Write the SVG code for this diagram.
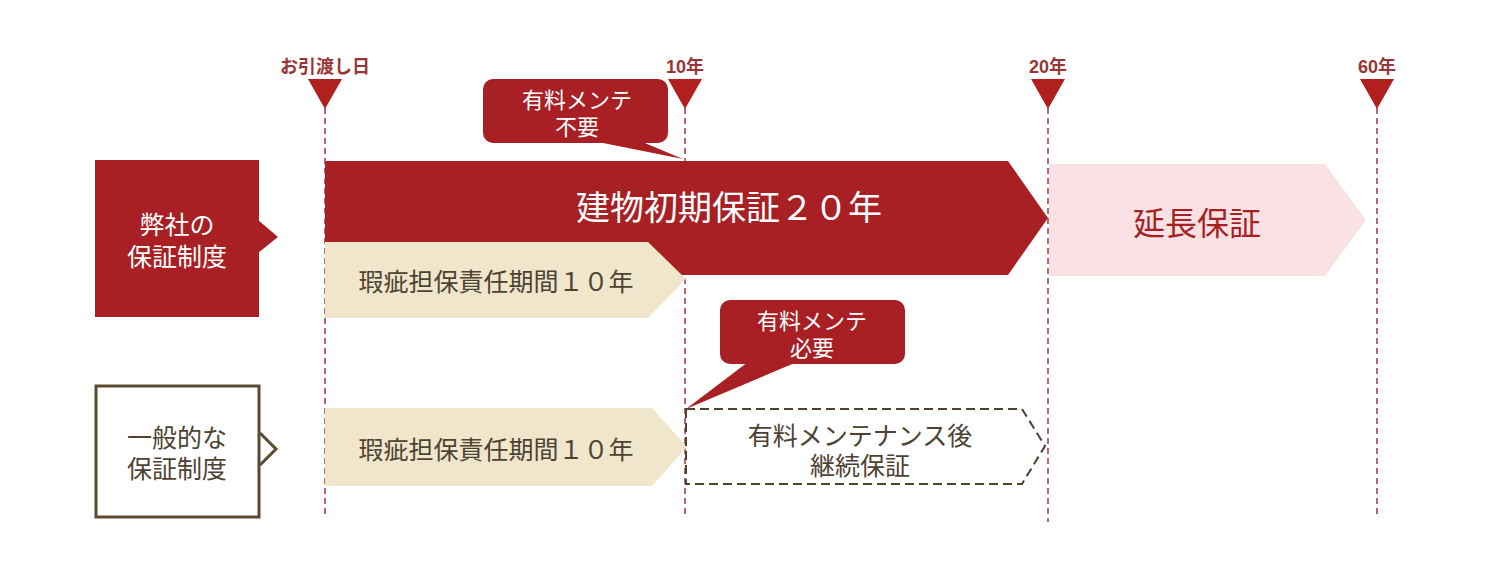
<svg xmlns="http://www.w3.org/2000/svg" width="1500" height="574" viewBox="0 0 1500 574">
<style>
text{font-family:"Liberation Sans","Noto Sans CJK JP",sans-serif;text-anchor:middle}
.lbl{font-size:18px;fill:#9a3535;font-weight:bold}
.tri{fill:#b0201f}
.vl{stroke:#9a3a45;stroke-width:1.5;stroke-dasharray:6 4;fill:none}
.red{fill:#a81f24}
.beige{fill:#efe6cc}
.pink{fill:#f9e1e4}
.w{fill:#ffffff}
.brn{fill:#4e4232}
</style>
<rect width="1500" height="574" fill="#ffffff"/>
<g id="connectors">
<line class="vl" x1="325" y1="108" x2="325" y2="518"/>
<line class="vl" x1="685" y1="108" x2="685" y2="518"/>
<line class="vl" x1="1048" y1="108" x2="1048" y2="522"/>
<line class="vl" x1="1377" y1="108" x2="1377" y2="518"/>
</g>
<g id="marker-0">
<text class="lbl" x="325" y="73">お引渡し日</text>
<polygon class="tri" points="308,79 342,79 325,109"/>
</g>
<g id="marker-10">
<text class="lbl" x="685" y="73">10年</text>
<polygon class="tri" points="668,79 702,79 685,109"/>
</g>
<g id="marker-20">
<text class="lbl" x="1048" y="73">20年</text>
<polygon class="tri" points="1031,79 1065,79 1048,109"/>
</g>
<g id="marker-60">
<text class="lbl" x="1377" y="73">60年</text>
<polygon class="tri" points="1360,79 1394,79 1377,109"/>
</g>
<g id="our-system">
<rect class="red" x="95" y="160" width="164" height="157"/>
<polygon class="red" points="258,220 278,237 258,253"/>
<text class="w" x="177" y="234" font-size="25">弊社の</text>
<text class="w" x="177" y="266" font-size="25">保証制度</text>
</g>
<g id="initial-20">
<polygon class="red" points="325,161 1008,161 1048,218 1008,275 325,275"/>
<text class="w" x="729" y="220" font-size="34">建物初期保証２０年</text>
</g>
<g id="defect-10-a">
<polygon class="beige" points="325,242 648,242 686,279 648,318 325,318"/>
<text class="brn" x="496" y="291" font-size="25">瑕疵担保責任期間１０年</text>
</g>
<g id="extended">
<polygon class="pink" points="1049,164 1325,164 1366,220 1325,276 1049,276"/>
<text x="1197" y="235" font-size="32" fill="#a81f24">延長保証</text>
</g>
<g id="callout-1">
<rect class="red" x="483" y="79" width="185" height="64" rx="10"/>
<polygon class="red" points="593,141 640,141 683,159"/>
<text class="w" x="577" y="108" font-size="22">有料メンテ</text>
<text class="w" x="577" y="135" font-size="22">不要</text>
</g>
<g id="general-system">
<rect x="96" y="386" width="163" height="131" fill="#ffffff" stroke="#5a4a30" stroke-width="3"/>
<polyline points="260,433 276,449 260,465" fill="none" stroke="#5a4a30" stroke-width="3"/>
<text class="brn" x="177" y="447" font-size="25">一般的な</text>
<text class="brn" x="177" y="478" font-size="25">保証制度</text>
</g>
<g id="defect-10-b">
<polygon class="beige" points="325,408 652,408 687,447 652,486 325,486"/>
<text class="brn" x="496" y="459" font-size="25">瑕疵担保責任期間１０年</text>
</g>
<g id="paid-continue">
<polygon points="686,409 1022,409 1045,446 1022,484 686,484" fill="none" stroke="#4e4232" stroke-width="2" stroke-dasharray="9 5"/>
<text class="brn" x="860" y="445" font-size="25">有料メンテナンス後</text>
<text class="brn" x="860" y="475" font-size="25">継続保証</text>
</g>
<g id="callout-2">
<rect class="red" x="720" y="300" width="185" height="64" rx="10"/>
<polygon class="red" points="748,362 797,362 686,409"/>
<text class="w" x="812" y="329" font-size="22">有料メンテ</text>
<text class="w" x="812" y="356" font-size="22">必要</text>
</g>
</svg>
